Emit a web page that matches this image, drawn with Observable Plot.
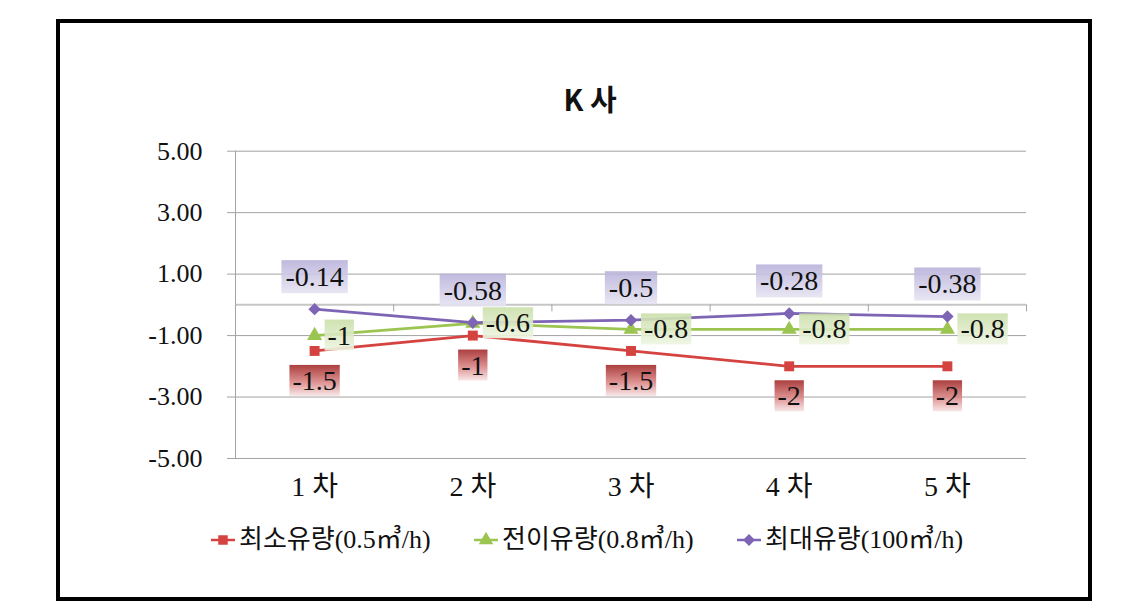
<!DOCTYPE html>
<html>
<head>
<meta charset="utf-8">
<script src="https://cdn.jsdelivr.net/npm/d3@7"></script>
<script src="https://cdn.jsdelivr.net/npm/@observablehq/plot@0.6"></script>
<style>
  html, body { margin: 0; padding: 0; background: #fff; }
  #wrap { position: relative; width: 1136px; height: 611px; overflow: hidden; background: #fff; }
  #frame { position: absolute; left: 56px; top: 19px; width: 1036px; height: 582px; box-sizing: border-box; border: 4px solid #000; }
  #title { position: absolute; left: 490px; top: 78px; width: 200px; text-align: center; font: bold 29px/40px "Noto Sans CJK KR", "Noto Sans", sans-serif; color: #111; }
  #chart { position: absolute; left: 0; top: 130px; }
  #legend { position: absolute; left: 210px; top: 523px; display: flex; align-items: center; font: 26px/34px "Liberation Serif", "Noto Sans CJK KR", serif; color: #111; white-space: nowrap; }
  .item { display: flex; align-items: center; width: 263px; }
  .item svg { margin-right: 3px; }
</style>
</head>
<body>
<div id="wrap">
  <div id="frame"></div>
  <div id="title">K 사</div>
  <div id="chart"></div>
  <div id="legend"></div>
</div>
<script>
const categories = ["1 차", "2 차", "3 차", "4 차", "5 차"];
const seriesNames = ["최소유량(0.5㎥/h)", "전이유량(0.8㎥/h)", "최대유량(100㎥/h)"];
const minFlow = [-1.5, -1, -1.5, -2, -2];
const transFlow = [-1, -0.6, -0.8, -0.8, -0.8];
const maxFlow = [-0.14, -0.58, -0.5, -0.28, -0.38];
const yTicks = [-5, -3, -1, 1, 3, 5];
const seriesColors = ["#d4433f", "#9bc451", "#7d64b4"];
const seriesSymbols = ["square", "triangle", "diamond2"];

const seriesValues = [minFlow, transFlow, maxFlow];
const rows = [];
seriesValues.forEach((vals, s) => vals.forEach((v, i) => rows.push({series: seriesNames[s], pos: i + 1, value: v, label: String(v)})));
const rowsOf = s => rows.filter(r => r.series === seriesNames[s]);
const positions = categories.map((c, i) => i + 1);
const bounds = d3.range(categories.length + 1).map(i => i + 0.5);

const chart = Plot.plot({
  width: 1136,
  height: 380,
  marginLeft: 235,
  marginRight: 110,
  marginTop: 20.7,
  marginBottom: 52,
  style: {fontFamily: '"Liberation Serif", "Noto Sans CJK KR", serif', background: "transparent", overflow: "visible", color: "#111"},
  x: {domain: [0.5, categories.length + 0.5]},
  y: {domain: [-5, 5]},
  color: {domain: seriesNames, range: seriesColors},
  symbol: {domain: seriesNames, range: seriesSymbols},
  marks: [
    Plot.gridY(yTicks, {stroke: "#a3a3a3", strokeOpacity: 1}),
    Plot.ruleX([0.5], {stroke: "#a3a3a3"}),
    Plot.axisY(yTicks, {tickFormat: d => d.toFixed(2), tickSize: 8, tickPadding: 25, fontSize: 26, stroke: "#a3a3a3", label: null}),
    Plot.axisX(positions, {tickFormat: d => categories[d - 1], tickSize: 0, tickPadding: 18, fontSize: 28, label: null}),
    Plot.ruleY([0], {stroke: "#c6c6c6", strokeWidth: 2}),
    Plot.ruleX(bounds, {y1: 0, y2: -0.23, stroke: "#a3a3a3"}),
    Plot.line(rows, {x: "pos", y: "value", z: "series", stroke: "series", strokeWidth: 2.8}),
    Plot.dot(rows, {x: "pos", y: "value", fill: "series", symbol: "series", r: 5.6}),
    Plot.text(rowsOf(2), {x: "pos", y: "value", text: "label", dy: -32, fontSize: 28, fill: "#111", ariaDescription: "lbl-max"}),
    Plot.text(rowsOf(1), {x: "pos", y: "value", text: "label", dx: 13, textAnchor: "start", fontSize: 28, fill: "#111", ariaDescription: "lbl-trans"}),
    Plot.text(rowsOf(0), {x: "pos", y: "value", text: "label", dy: 30, fontSize: 28, fill: "#111", ariaDescription: "lbl-min"})
  ]
});
document.getElementById("chart").appendChild(chart);

// label background boxes
const ns = "http://www.w3.org/2000/svg";
const defs = document.createElementNS(ns, "defs");
const grads = {
  gPurple: [["0%", "#b9b3da"], ["100%", "#e6e3f2"]],
  gGreen: [["0%", "#cadfa9"], ["100%", "#eef5e2"]],
  gRed: [["0%", "#a32a2a"], ["55%", "#d98585"], ["100%", "#f7e4e4"]]
};
for (const [id, stops] of Object.entries(grads)) {
  const g = document.createElementNS(ns, "linearGradient");
  g.setAttribute("id", id);
  g.setAttribute("x1", "0"); g.setAttribute("y1", "0"); g.setAttribute("x2", "0"); g.setAttribute("y2", "1");
  for (const [o, c] of stops) {
    const s = document.createElementNS(ns, "stop");
    s.setAttribute("offset", o); s.setAttribute("stop-color", c);
    g.appendChild(s);
  }
  defs.appendChild(g);
}
chart.insertBefore(defs, chart.firstChild);
function boxes(label, grad, padX, padY) {
  let groups = chart.querySelectorAll(`g[aria-description="${label}"]`);
  groups.forEach(gr => gr.querySelectorAll("text").forEach(t => {
    const b = t.getBBox();
    const r = document.createElementNS(ns, "rect");
    r.setAttribute("x", b.x - padX);
    r.setAttribute("y", b.y - padY);
    r.setAttribute("width", b.width + 2 * padX);
    r.setAttribute("height", b.height + 2 * padY);
    r.setAttribute("fill", `url(#${grad})`);
    r.setAttribute("fill-opacity", "0.9");
    const tr = t.getAttribute("transform");
    if (tr) r.setAttribute("transform", tr);
    t.parentNode.insertBefore(r, t);
  }));
}
boxes("lbl-max", "gPurple", 4, 1);
boxes("lbl-trans", "gGreen", 3, 0);
boxes("lbl-min", "gRed", 3, 0);

// legend
const legend = document.getElementById("legend");
seriesNames.forEach((name, i) => {
  const item = document.createElement("div");
  item.className = "item";
  const sym = d3.symbol(d3["symbol" + {square: "Square", triangle: "Triangle", diamond2: "Diamond2"}[seriesSymbols[i]]], 90)();
  item.innerHTML = `<svg width="26" height="20"><line x1="1" x2="25" y1="10" y2="10" stroke="${seriesColors[i]}" stroke-width="2.5"/><path d="${sym}" transform="translate(13,10)" fill="${seriesColors[i]}"/></svg><span>${name}</span>`;
  legend.appendChild(item);
});
</script>
</body>
</html>
